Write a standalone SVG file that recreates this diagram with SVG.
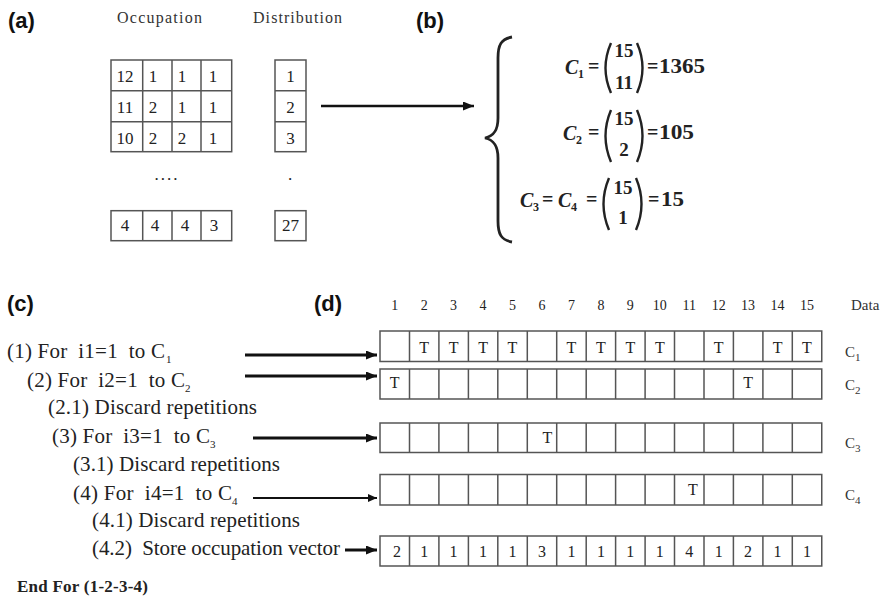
<svg xmlns="http://www.w3.org/2000/svg" width="896" height="598" viewBox="0 0 896 598">
<style>
.lab{font-family:"Liberation Sans",Arial,sans-serif;font-weight:bold;font-size:22px;fill:#111}
.hd{font-family:"Liberation Serif","Times New Roman",serif;font-size:16px;fill:#333}
.num{font-family:"Liberation Serif","Times New Roman",serif;font-size:17px;fill:#222;text-anchor:middle}
.cell{fill:#fff;stroke:#555;stroke-width:1.5}
.grid{fill:none;stroke:#555;stroke-width:1.5}
.eq{font-family:"Liberation Serif","Times New Roman",serif;font-size:20px;font-weight:bold;fill:#222}
.eqi{font-family:"Liberation Serif","Times New Roman",serif;font-size:20px;font-weight:bold;font-style:italic;fill:#222}
.eqs{font-family:"Liberation Serif","Times New Roman",serif;font-size:12px;font-weight:bold;fill:#222}
.eqc{font-family:"Liberation Serif","Times New Roman",serif;font-size:19px;font-weight:bold;fill:#222;text-anchor:middle}
.par{fill:none;stroke:#222;stroke-width:2.4}
.code{font-family:"Liberation Serif","Times New Roman",serif;font-size:21px;fill:#222}
.csub{font-family:"Liberation Serif","Times New Roman",serif;font-size:11px;fill:#222}
.sub{font-size:11px}
.colnum{font-family:"Liberation Serif","Times New Roman",serif;font-size:14px;fill:#222;text-anchor:middle}
.t{font-family:"Liberation Serif","Times New Roman",serif;font-size:16px;fill:#222;text-anchor:middle}
.cl{font-family:"Liberation Serif","Times New Roman",serif;font-size:15px;fill:#333}
.arr{stroke:#111;fill:none}
</style>
<defs>
<marker id="ah" markerUnits="userSpaceOnUse" markerWidth="11" markerHeight="9" refX="11" refY="4.5" orient="auto">
<path d="M0,0 L11,4.5 L0,9 z" fill="#111"/>
</marker>
<marker id="ahs" markerUnits="userSpaceOnUse" markerWidth="9" markerHeight="8" refX="9" refY="4" orient="auto">
<path d="M0,0 L9,4 L0,8 z" fill="#111"/>
</marker>
</defs>
<rect width="896" height="598" fill="#fff"/>

<!-- labels -->
<text class="lab" x="8" y="28">(a)</text>
<text class="lab" x="416" y="28">(b)</text>
<text class="lab" x="7" y="311">(c)</text>
<text class="lab" x="314" y="311">(d)</text>

<!-- (a) -->
<g id="occupation">
<text class="hd" x="117" y="23" textLength="85">Occupation</text>
<rect class="cell" x="111" y="60" width="120.7" height="91.7"/>
<path class="grid" d="M142.7,60V151.7M172,60V151.7M201,60V151.7M111,90.7H231.7M111,121.7H231.7"/>
<text class="num" x="125" y="82">12</text><text class="num" x="153" y="82">1</text><text class="num" x="182" y="82">1</text><text class="num" x="213" y="82">1</text>
<text class="num" x="125" y="113">11</text><text class="num" x="153" y="113">2</text><text class="num" x="182" y="113">1</text><text class="num" x="213" y="113">1</text>
<text class="num" x="125" y="144">10</text><text class="num" x="153" y="144">2</text><text class="num" x="182" y="144">2</text><text class="num" x="213" y="144">1</text>
<text class="num" x="167" y="180" letter-spacing="2">....</text>
<rect class="cell" x="111" y="210.7" width="120.7" height="30"/>
<path class="grid" d="M142.7,210.7V240.7M172,210.7V240.7M201,210.7V240.7"/>
<text class="num" x="125" y="231">4</text><text class="num" x="155" y="231">4</text><text class="num" x="185" y="231">4</text><text class="num" x="214" y="231">3</text>
</g>
<g id="distribution">
<text class="hd" x="253" y="23" textLength="89">Distribution</text>
<rect class="cell" x="275" y="60" width="31" height="91.7"/>
<path class="grid" d="M275,90.7H306M275,121.7H306"/>
<text class="num" x="290.5" y="82">1</text>
<text class="num" x="290.5" y="113">2</text>
<text class="num" x="290.5" y="144">3</text>
<text class="num" x="290" y="180">.</text>
<rect class="cell" x="275" y="210.7" width="31" height="30"/>
<text class="num" x="290.5" y="231">27</text>
</g>

<!-- (b) -->
<g id="equations">
<path d="M512,37 C501,39 498,45 498,58 L498,118 C498,130 494,136 485,138 C494,140 498,146 498,158 L498,221 C498,234 501,240 512,242" fill="none" stroke="#222" stroke-width="2.8"/>
<text class="eqi" x="565" y="74">C</text><text class="eqs" x="578" y="78">1</text>
<text class="eq" x="588" y="73">=</text>
<path class="par" d="M611,43 Q600,68 611,93"/><path class="par" d="M637,43 Q648,68 637,93"/>
<text class="eqc" x="624" y="57">15</text><text class="eqc" x="624" y="89">11</text>
<text class="eq" x="647" y="73">=</text><text class="eq" x="659" y="73" textLength="46" lengthAdjust="spacingAndGlyphs">1365</text>

<text class="eqi" x="563" y="140">C</text><text class="eqs" x="576" y="144">2</text>
<text class="eq" x="588" y="139">=</text>
<path class="par" d="M611,110 Q600,136 611,162"/><path class="par" d="M637,110 Q648,136 637,162"/>
<text class="eqc" x="624" y="125">15</text><text class="eqc" x="624" y="156">2</text>
<text class="eq" x="647" y="139">=</text><text class="eq" x="659" y="139" textLength="35" lengthAdjust="spacingAndGlyphs">105</text>

<text class="eqi" x="520" y="207">C</text><text class="eqs" x="533" y="211">3</text>
<text class="eq" x="542" y="206">=</text>
<text class="eqi" x="558" y="207">C</text><text class="eqs" x="571" y="211">4</text>
<text class="eq" x="586" y="206">=</text>
<path class="par" d="M609,178 Q598,204 609,230"/><path class="par" d="M636,178 Q647,204 636,230"/>
<text class="eqc" x="623" y="194">15</text><text class="eqc" x="623" y="224">1</text>
<text class="eq" x="648" y="206">=</text><text class="eq" x="661" y="206" textLength="23" lengthAdjust="spacingAndGlyphs">15</text>
</g>

<!-- (c) -->
<g id="code">
<text class="code" x="7" y="358" xml:space="preserve" textLength="158">(1) For  i1=1  to C</text><text class="csub" x="166" y="363">1</text>
<text class="code" x="27" y="387" xml:space="preserve" textLength="158">(2) For  i2=1  to C</text><text class="csub" x="185" y="392">2</text>
<text class="code" x="48" y="414" textLength="209">(2.1) Discard repetitions</text>
<text class="code" x="52" y="443" xml:space="preserve" textLength="158">(3) For  i3=1  to C</text><text class="csub" x="210" y="448">3</text>
<text class="code" x="73" y="471" textLength="207">(3.1) Discard repetitions</text>
<text class="code" x="73" y="500" xml:space="preserve" textLength="159">(4) For  i4=1  to C</text><text class="csub" x="232" y="505">4</text>
<text class="code" x="92" y="527" textLength="208">(4.1) Discard repetitions</text>
<text class="code" x="92" y="555" xml:space="preserve" textLength="248">(4.2)  Store occupation vector</text>
<text class="code" x="17" y="592" style="font-size:17px;font-weight:bold" textLength="131">End For (1-2-3-4)</text>
</g>

<!-- connectors -->
<g id="connectors">
<line class="arr" x1="321" y1="106" x2="474" y2="106" stroke-width="2.5" marker-end="url(#ah)"/>
<line class="arr" x1="245" y1="355" x2="377" y2="355" stroke-width="3" marker-end="url(#ah)"/>
<line class="arr" x1="245" y1="376" x2="377" y2="376" stroke-width="3" marker-end="url(#ah)"/>
<line class="arr" x1="253" y1="438" x2="377" y2="438" stroke-width="3" marker-end="url(#ah)"/>
<line class="arr" x1="253" y1="498" x2="377" y2="498" stroke-width="2" marker-end="url(#ahs)"/>
<line class="arr" x1="345" y1="550" x2="377" y2="550" stroke-width="3" marker-end="url(#ah)"/>
</g>

<!-- (d) -->
<g id="header">
<text class="colnum" x="394.7" y="310">1</text><text class="colnum" x="424.2" y="310">2</text><text class="colnum" x="453.6" y="310">3</text><text class="colnum" x="483.1" y="310">4</text><text class="colnum" x="512.5" y="310">5</text><text class="colnum" x="542" y="310">6</text><text class="colnum" x="571.4" y="310">7</text><text class="colnum" x="600.9" y="310">8</text><text class="colnum" x="630.3" y="310">9</text><text class="colnum" x="659.8" y="310">10</text><text class="colnum" x="689.2" y="310">11</text><text class="colnum" x="718.7" y="310">12</text><text class="colnum" x="748.1" y="310">13</text><text class="colnum" x="777.6" y="310">14</text><text class="colnum" x="807" y="310">15</text>
<text class="cl" x="851" y="310">Data</text>
</g>
<g id="rowC1">
<rect class="cell" x="380" y="331" width="441.75" height="30.5"/>
<path class="grid" d="M409.5,331v30.5M438.9,331v30.5M468.4,331v30.5M497.8,331v30.5M527.3,331v30.5M556.7,331v30.5M586.2,331v30.5M615.6,331v30.5M645.1,331v30.5M674.5,331v30.5M704,331v30.5M733.4,331v30.5M762.9,331v30.5M792.3,331v30.5"/>
<text class="t" x="424.2" y="353">T</text><text class="t" x="453.6" y="353">T</text><text class="t" x="483.1" y="353">T</text><text class="t" x="512.5" y="353">T</text><text class="t" x="571.4" y="353">T</text><text class="t" x="600.9" y="353">T</text><text class="t" x="630.3" y="353">T</text><text class="t" x="659.8" y="353">T</text><text class="t" x="718.7" y="353">T</text><text class="t" x="777.6" y="353">T</text><text class="t" x="807" y="353">T</text>
<text class="cl" x="845" y="357">C<tspan class="sub" dy="4">1</tspan></text>
</g>
<g id="rowC2">
<rect class="cell" x="380" y="369" width="441.75" height="30"/>
<path class="grid" d="M409.5,369v30M438.9,369v30M468.4,369v30M497.8,369v30M527.3,369v30M556.7,369v30M586.2,369v30M615.6,369v30M645.1,369v30M674.5,369v30M704,369v30M733.4,369v30M762.9,369v30M792.3,369v30"/>
<text class="t" x="394.7" y="388">T</text><text class="t" x="748.1" y="388">T</text>
<text class="cl" x="845" y="390">C<tspan class="sub" dy="4">2</tspan></text>
</g>
<g id="rowC3">
<rect class="cell" x="380" y="423" width="441.75" height="29.5"/>
<path class="grid" d="M409.5,423v29.5M438.9,423v29.5M468.4,423v29.5M497.8,423v29.5M527.3,423v29.5M556.7,423v29.5M586.2,423v29.5M615.6,423v29.5M645.1,423v29.5M674.5,423v29.5M704,423v29.5M733.4,423v29.5M762.9,423v29.5M792.3,423v29.5"/>
<text class="t" x="547.5" y="443">T</text>
<text class="cl" x="845" y="448">C<tspan class="sub" dy="4">3</tspan></text>
</g>
<g id="rowC4">
<rect class="cell" x="380" y="474.5" width="441.75" height="30.5"/>
<path class="grid" d="M409.5,474.5v30.5M438.9,474.5v30.5M468.4,474.5v30.5M497.8,474.5v30.5M527.3,474.5v30.5M556.7,474.5v30.5M586.2,474.5v30.5M615.6,474.5v30.5M645.1,474.5v30.5M674.5,474.5v30.5M704,474.5v30.5M733.4,474.5v30.5M762.9,474.5v30.5M792.3,474.5v30.5"/>
<text class="t" x="693" y="495">T</text>
<text class="cl" x="845" y="500">C<tspan class="sub" dy="4">4</tspan></text>
</g>
<g id="rowVector">
<rect class="cell" x="380" y="536" width="441.75" height="30"/>
<path class="grid" d="M409.5,536v30M438.9,536v30M468.4,536v30M497.8,536v30M527.3,536v30M556.7,536v30M586.2,536v30M615.6,536v30M645.1,536v30M674.5,536v30M704,536v30M733.4,536v30M762.9,536v30M792.3,536v30"/>
<text class="t" x="397" y="557">2</text><text class="t" x="424.2" y="557">1</text><text class="t" x="453.6" y="557">1</text><text class="t" x="483.1" y="557">1</text><text class="t" x="512.5" y="557">1</text><text class="t" x="542" y="557">3</text><text class="t" x="571.4" y="557">1</text><text class="t" x="600.9" y="557">1</text><text class="t" x="630.3" y="557">1</text><text class="t" x="659.8" y="557">1</text><text class="t" x="689.2" y="557">4</text><text class="t" x="718.7" y="557">1</text><text class="t" x="748.1" y="557">2</text><text class="t" x="777.6" y="557">1</text><text class="t" x="807" y="557">1</text>
</g>
</svg>
